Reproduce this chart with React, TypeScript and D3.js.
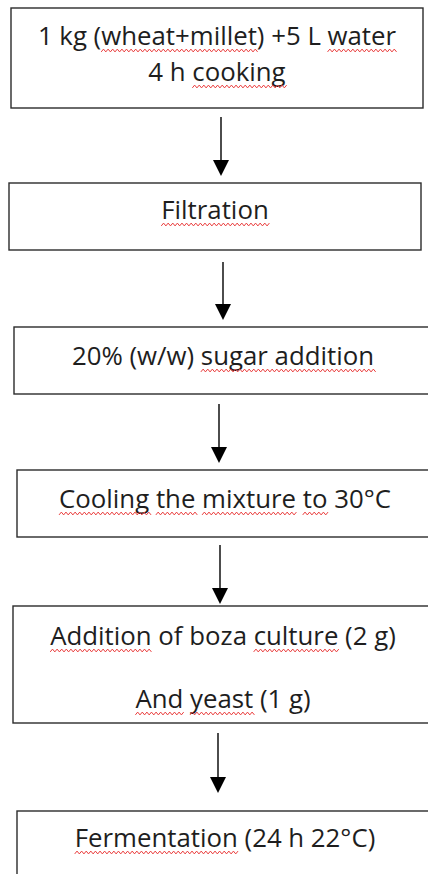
import { useRef, useEffect } from "react";
import * as d3 from "d3";

// flow steps, one entry per box, each line of text
const steps: string[][] = [
    ["1 kg (wheat+millet) +5 L water", "4 h cooking"],
    ["Filtration"],
    ["20% (w/w) sugar addition"],
    ["Cooling the mixture to 30°C"],
    ["Addition of boza culture (2 g)", "And yeast (1 g)"],
    ["Fermentation (24 h 22°C)"],
];

// words flagged by the spell checker (red wavy underline)
const flagged: string[][] = [
    ["wheat+millet", "water", "cooking"],
    ["Filtration"],
    ["sugar addition"],
    ["Cooling", "the", "mixture", "to"],
    ["Addition", "culture", "And", "yeast"],
    ["Fermentation"],
];

// box geometry as measured from the page
const layout = [
    { x0: 11, x1: 423, y0: 8, y1: 108, lines: [45, 81] },
    { x0: 9, x1: 421, y0: 183, y1: 250, lines: [219] },
    { x0: 14, x1: 440, y0: 327, y1: 394, lines: [365] },
    { x0: 17, x1: 440, y0: 470, y1: 537, lines: [508] },
    { x0: 13, x1: 440, y0: 606, y1: 723, lines: [645, 708] },
    { x0: 17, x1: 440, y0: 811, y1: 900, lines: [847] },
];
const textCenter = [217, 215, 223, 225, 223, 225];
const arrows = [
    { x: 221, y0: 117, y1: 176 },
    { x: 223, y0: 262, y1: 320 },
    { x: 219, y0: 404, y1: 463 },
    { x: 220, y0: 545, y1: 604 },
    { x: 218, y0: 733, y1: 793 },
];

const W = 428;
const H = 874;
const FONT = "'Open Sans', Lato, sans-serif";
const FONT_SIZE = 25.8;

function Flowchart() {
    const svgRef = useRef<SVGSVGElement>(null);

    useEffect(() => {
        document.body.style.margin = "0";
        const svg = d3.select<SVGSVGElement, unknown>(svgRef.current as SVGSVGElement);
        svg.selectAll("*").remove();

        svg.append("rect").attr("width", W).attr("height", H).attr("fill", "#fff");

        // boxes
        svg.append("g")
            .selectAll("rect")
            .data(layout)
            .join("rect")
            .attr("x", d => d.x0)
            .attr("y", d => d.y0)
            .attr("width", d => d.x1 - d.x0)
            .attr("height", d => d.y1 - d.y0)
            .attr("fill", "none")
            .attr("stroke", "#2b2b2b")
            .attr("stroke-width", 1.4);

        // arrows
        const arrowG = svg.append("g").selectAll("g").data(arrows).join("g");
        arrowG.append("line")
            .attr("x1", d => d.x).attr("x2", d => d.x)
            .attr("y1", d => d.y0).attr("y2", d => d.y1 - 10)
            .attr("stroke", "#000")
            .attr("stroke-width", 1.4);
        arrowG.append("path")
            .attr("d", d => `M${d.x - 8},${d.y1 - 16}L${d.x + 8},${d.y1 - 16}L${d.x},${d.y1}Z`)
            .attr("fill", "#000");

        // text + squiggles
        const textG = svg.append("g");
        const squiggleG = svg.append("g");
        steps.forEach((lines, i) => {
            lines.forEach((line, j) => {
                const t = textG.append("text")
                    .attr("x", textCenter[i])
                    .attr("y", layout[i].lines[j])
                    .attr("text-anchor", "middle")
                    .attr("font-family", FONT)
                    .attr("font-size", FONT_SIZE)
                    .attr("fill", "#1e1e1e")
                    .text(line);
                const node = t.node() as SVGTextElement;
                flagged[i].forEach(word => {
                    const idx = line.indexOf(word);
                    if (idx < 0) return;
                    const start = node.getStartPositionOfChar(idx).x;
                    const len = node.getSubStringLength(idx, word.length);
                    const yBase = layout[i].lines[j] + 5.5;
                    const pts: [number, number][] = [];
                    for (let k = 0; k * 2.3 <= len + 2; k++) {
                        pts.push([start + k * 2.3, yBase + (k % 2 === 0 ? 1.4 : -1.4)]);
                    }
                    squiggleG.append("path")
                        .attr("d", d3.line()(pts))
                        .attr("fill", "none")
                        .attr("stroke", "#ea3b3b")
                        .attr("stroke-width", 1);
                });
            });
        });
    }, []);

    return <svg ref={svgRef} width={W} height={H} style={{ display: "block" }} />;
}

export default function App() {
    return <Flowchart />;
}
